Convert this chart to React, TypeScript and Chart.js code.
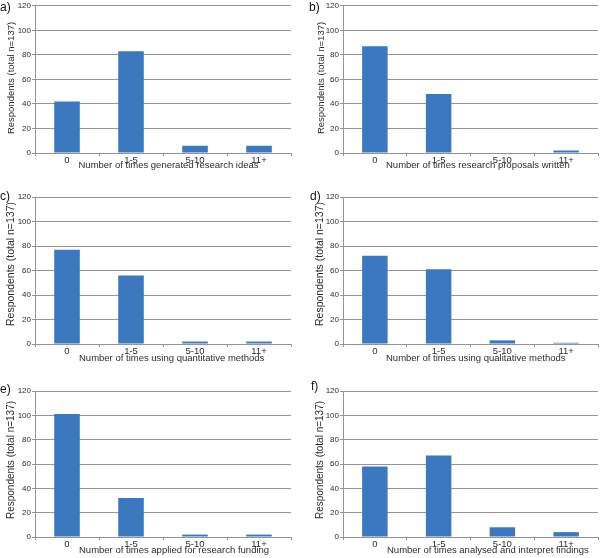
import React, { useEffect, useRef } from "react";
import { Chart, registerables } from "chart.js";

Chart.register(...registerables);

// ---------- data ----------
const categories = ["0", "1-5", "5-10", "11+"];
const yMin = 0;
const yMax = 120;
const yStep = 20;
const yAxisTitle = "Respondents (total n=137)";
const panelLetters = ["a)", "b)", "c)", "d)", "e)", "f)"];
const xAxisTitles = [
  "Number of times generated research ideas",
  "Number of times research proposals written",
  "Number of times using quantitative methods",
  "Number of times using qualitative methods",
  "Number of times applied for research funding",
  "Number of times analysed and interpret findings",
];
const ideasValues = [42, 83, 6, 6];
const proposalsValues = [87, 48, 0, 2];
const quantitativeValues = [77, 56, 2, 2];
const qualitativeValues = [72, 61, 3, 1];
const fundingValues = [101, 32, 2, 2];
const findingsValues = [58, 67, 8, 4];
const panelValues = [
  ideasValues,
  proposalsValues,
  quantitativeValues,
  qualitativeValues,
  fundingValues,
  findingsValues,
];

// ---------- layout / style ----------
const CANVAS_W = 300;
const CANVAS_H = 180;
const layouts = [
  { left: 0, top: 0, plotTop: 5, plotBottom: 153, axisX: 35, rightX: 291, xTitleX: 78.5, xTitleY: 165.5, yTitleX: 11, yTitleY: 78, yTitleSize: 9.5, labelX: 0, labelY: 0 },
  { left: 300, top: 0, plotTop: 5, plotBottom: 153, axisX: 343, rightX: 598, xTitleX: 386, xTitleY: 165.5, yTitleX: 321, yTitleY: 78, yTitleSize: 9.5, labelX: 309, labelY: 0 },
  { left: 0, top: 186, plotTop: 197, plotBottom: 344, axisX: 35, rightX: 291, xTitleX: 79, xTitleY: 358, yTitleX: 11.5, yTitleY: 264, yTitleSize: 10.5, labelX: 0, labelY: 189 },
  { left: 300, top: 186, plotTop: 197, plotBottom: 344, axisX: 343, rightX: 598, xTitleX: 386, xTitleY: 358, yTitleX: 320.5, yTitleY: 264, yTitleSize: 10.5, labelX: 310, labelY: 189 },
  { left: 0, top: 378, plotTop: 391, plotBottom: 537, axisX: 35, rightX: 291, xTitleX: 79, xTitleY: 550.5, yTitleX: 11.5, yTitleY: 460, yTitleSize: 10, labelX: 0, labelY: 382 },
  { left: 300, top: 378, plotTop: 391, plotBottom: 537, axisX: 343, rightX: 598, xTitleX: 387, xTitleY: 550.5, yTitleX: 320, yTitleY: 460, yTitleSize: 10, labelX: 311, labelY: 379 },
];
const FONT = "'Liberation Sans', Arial, Helvetica, sans-serif";
const BAR_COLOR = "#3C78C0";
const GRID_COLOR = "#949494";
const TEXT_COLOR = "#2c2c2c";
const X_TITLE_SIZE = 9.5;

function Panel({ index }: { index: number }) {
  const ref = useRef<HTMLCanvasElement | null>(null);
  const L = layouts[index];
  useEffect(() => {
    if (!ref.current) return;
    const xHeight = L.top + CANVAS_H - L.plotBottom;
    const titlesPlugin = {
      id: "panelTitles",
      afterDraw(chart: any) {
        const ctx = chart.ctx as CanvasRenderingContext2D;
        ctx.save();
        ctx.fillStyle = TEXT_COLOR;
        ctx.font = `${X_TITLE_SIZE}px ${FONT}`;
        ctx.textAlign = "left";
        ctx.textBaseline = "middle";
        ctx.fillText(xAxisTitles[index], L.xTitleX - L.left, L.xTitleY - L.top);
        ctx.translate(L.yTitleX - L.left, L.yTitleY - L.top);
        ctx.rotate(-Math.PI / 2);
        ctx.font = `${L.yTitleSize}px ${FONT}`;
        ctx.textAlign = "center";
        ctx.fillText(yAxisTitle, 0, 0);
        ctx.restore();
      },
    };
    const chart = new Chart(ref.current, {
      type: "bar",
      data: {
        labels: categories,
        datasets: [
          {
            data: panelValues[index],
            backgroundColor: BAR_COLOR,
            borderWidth: 0,
            barPercentage: 0.4,
            categoryPercentage: 1,
          },
        ],
      },
      options: {
        animation: false,
        responsive: false,
        devicePixelRatio: 1,
        layout: {
          padding: {
            top: L.plotTop - L.top,
            left: 0,
            right: CANVAS_W - (L.rightX - L.left),
            bottom: 0,
          },
        },
        plugins: {
          legend: { display: false },
          tooltip: { enabled: false },
          title: { display: false },
        },
        scales: {
          x: {
            grid: {
              display: true,
              drawOnChartArea: false,
              drawTicks: true,
              tickLength: 3,
              color: GRID_COLOR,
              offset: true,
            },
            border: { display: true, color: GRID_COLOR },
            ticks: {
              font: { family: FONT, size: 9.5 },
              color: TEXT_COLOR,
              padding: -1.5,
              maxRotation: 0,
              autoSkip: false,
            },
            title: { display: false },
            afterFit: (scale: any) => {
              scale.height = xHeight;
            },
          },
          y: {
            min: yMin,
            max: yMax,
            ticks: {
              stepSize: yStep,
              font: { family: FONT, size: 8 },
              color: TEXT_COLOR,
              padding: 1,
            },
            grid: {
              color: GRID_COLOR,
              tickLength: 3,
              drawTicks: true,
            },
            border: { display: true, color: GRID_COLOR },
            title: { display: false },
            afterFit: (scale: any) => {
              scale.width = L.axisX - L.left;
            },
          },
        },
      },
      plugins: [titlesPlugin],
    });
    return () => chart.destroy();
  }, [index]);
  return (
    <>
      <canvas
        ref={ref}
        width={CANVAS_W}
        height={CANVAS_H}
        style={{ position: "absolute", left: L.left, top: L.top, width: CANVAS_W, height: CANVAS_H }}
      />
      <span
        style={{
          position: "absolute",
          left: L.labelX,
          top: L.labelY,
          fontFamily: FONT,
          fontSize: 12,
          lineHeight: "14px",
          color: "#111",
        }}
      >
        {panelLetters[index]}
      </span>
    </>
  );
}

export default function App() {
  return (
    <div style={{ position: "absolute", left: 0, top: 0, width: 600, height: 558, background: "#fff", overflow: "hidden" }}>
      {layouts.map((_, i) => (
        <Panel key={i} index={i} />
      ))}
    </div>
  );
}
